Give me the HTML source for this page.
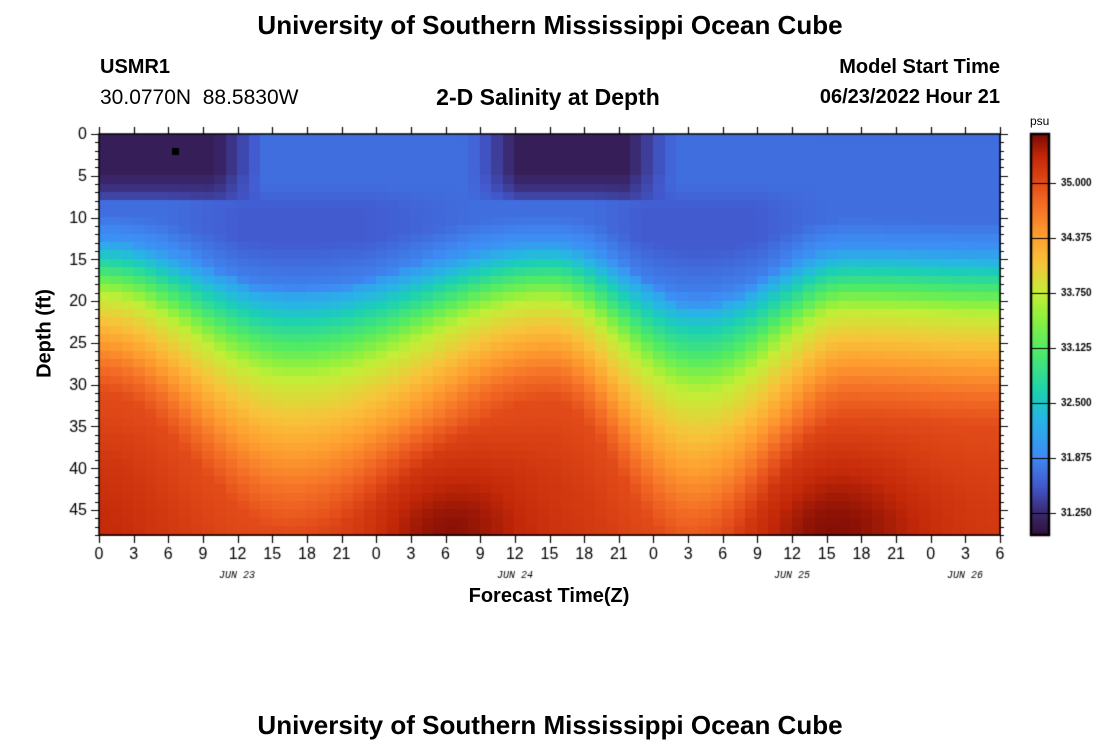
<!DOCTYPE html>
<html><head><meta charset="utf-8"><style>
body{margin:0;background:#fff;width:1100px;height:750px;overflow:hidden;position:relative;font-family:"Liberation Sans",sans-serif}
.t{position:absolute;white-space:nowrap;color:#000;font-family:"Liberation Sans",sans-serif}
canvas{position:absolute;left:0;top:0}
</style></head><body>
<canvas id="c" width="1100" height="750"></canvas>
<div class="t" style="left:0;width:1100px;text-align:center;top:10px;font-size:26px;font-weight:bold">University of Southern Mississippi Ocean Cube</div>
<div class="t" style="left:100px;top:56px;font-size:20px;font-weight:bold">USMR1</div>
<div class="t" style="left:100px;top:86px;font-size:21px">30.0770N&nbsp; 88.5830W</div>
<div class="t" style="left:400px;width:296px;text-align:center;top:84px;font-size:23px;font-weight:bold">2-D Salinity at Depth</div>
<div class="t" style="right:100px;top:56px;font-size:20px;font-weight:bold">Model Start Time</div>
<div class="t" style="right:100px;top:86px;font-size:20px;font-weight:bold">06/23/2022 Hour 21</div>
<div class="t" style="left:0;width:1100px;text-align:center;top:710px;font-size:26px;font-weight:bold">University of Southern Mississippi Ocean Cube</div>
<div class="t" style="left:349px;width:400px;text-align:center;top:585px;font-size:20px;font-weight:bold">Forecast Time(Z)</div>
<div class="t" style="left:-5px;width:100px;text-align:center;top:322px;font-size:20px;font-weight:bold;transform:rotate(-90deg)">Depth (ft)</div>
<div class="t" style="left:1030px;top:114px;font-size:12px">psu</div>
<script>
const c=document.getElementById('c'),g=c.getContext('2d');
const X0=99,X1=1000,Y0=134,Y1=535,H=78,D=48;
const px=t=>X0+(X1-X0)*t/H, py=d=>Y0+(Y1-Y0)*d/D;
const sq=x=>x*x, cl=x=>Math.max(0,Math.min(1,x));
const hp=[[0,17],[17,25.5],[39,17.5],[52,27],[65,18.5],[78,19]];
function h(t){for(let i=0;i<hp.length-1;i++){const a=hp[i][0],b=hp[i][1],c2=hp[i+1][0],d2=hp[i+1][1];if(t<=c2){const f=(t-a)/(c2-a),s=(1-Math.cos(Math.PI*f))/2;return b+(d2-b)*s;}}return 19;}
const prof=[[-40,31.68],[-7.5,31.7],[-4.5,31.95],[-2,32.6],[0,33.1],[2.5,33.75],[5.5,34.1],[8,34.4],[11,34.75],[14,35.0],[22,35.12],[40,35.2]];
function lin(tab,x){if(x<=tab[0][0])return tab[0][1];for(let i=0;i<tab.length-1;i++){if(x<=tab[i+1][0]){const f=(x-tab[i][0])/(tab[i+1][0]-tab[i][0]);return tab[i][1]+(tab[i+1][1]-tab[i][1])*f;}}return tab[tab.length-1][1];}
const stops=[[31.0,[48,18,59]],[31.25,[58,40,110]],[31.55,[66,88,205]],[31.9,[62,140,245]],[32.3,[40,180,230]],[32.6,[27,208,180]],[33.1,[80,235,100]],[33.5,[150,240,60]],[33.75,[195,238,55]],[34.1,[248,195,58]],[34.4,[254,158,48]],[34.75,[244,110,38]],[35.0,[226,75,25]],[35.3,[195,40,8]],[35.56,[122,10,4]]];
function col(v){if(v<=stops[0][0])return stops[0][1];for(let i=0;i<stops.length-1;i++){const a=stops[i][0],ca=stops[i][1],b=stops[i+1][0],cb=stops[i+1][1];if(v<=b){const f=(v-a)/(b-a);return ca.map((x,k)=>Math.round(x+(cb[k]-x)*f));}}return stops[stops.length-1][1];}
function box(t,a,b,w){return cl((t-a)/w+1)*cl((b-t)/w+1);}
function sal(t,d){const hh=h(t);const k=1+(hh-17)/14;let v=lin(prof,(d-hh)/k);
if(d<hh-6)v-=0.12*cl((hh-19)/5)*cl((d-6)/3);
const bt=0.38*Math.exp(-sq((t-29.8)/7))+0.38*Math.exp(-sq((t-63.5)/8))+0.12*Math.exp(-sq(t/5));
v+=bt*cl((d-34)/12);
const lens=box(t,0,10,4.5)+box(t,36.5,45.5,4.5);
const df=cl((8.5-d)/4);
v-=0.55*Math.min(1,lens)*Math.sqrt(df);
return v;}
for(let i=0;i<H;i++)for(let j=0;j<D;j++){const cc=col(sal(i+0.5,j+0.5));g.fillStyle='rgb('+cc.join(',')+')';g.fillRect(Math.floor(px(i)),Math.floor(py(j)),Math.ceil(px(i+1))-Math.floor(px(i))+1,Math.ceil(py(j+1))-Math.floor(py(j))+1);}
g.fillStyle='#000';g.fillRect(172,148,7,7);
g.strokeStyle='#000';g.lineWidth=1.5;g.strokeRect(X0,Y0,X1-X0,Y1-Y0);
g.lineWidth=1.2;g.beginPath();
for(let d=0;d<=D;d++){const y=Math.round(py(d))+.5,L=d%5==0?8:4;g.moveTo(X0,y);g.lineTo(X0-L,y);g.moveTo(X1,y);g.lineTo(X1+L,y);}
for(let t=0;t<=H;t+=3){const x=Math.round(px(t))+.5;g.moveTo(x,Y1);g.lineTo(x,Y1+8);g.moveTo(x,Y0);g.lineTo(x,Y0-7);}
g.stroke();
g.font='16px "Liberation Sans",sans-serif';g.fillStyle='#000';g.textAlign='right';g.textBaseline='middle';
for(let d=0;d<=45;d+=5)g.fillText(d,X0-12,py(d)+1);
g.textAlign='center';g.textBaseline='top';
for(let t=0;t<=H;t+=3)g.fillText((t%24),px(t),Y1+12);
g.font='italic 10px "Liberation Mono",monospace';
[['JUN 23',237],['JUN 24',515],['JUN 25',792],['JUN 26',965]].forEach(a=>g.fillText(a[0],a[1],570));
const CX=1031,CW=18,vy=v=>183+(35-v)/0.625*55;
for(let y=Y0;y<Y1;y++){const v=35+(183-y-0.5)/88;g.fillStyle='rgb('+col(v).join(',')+')';g.fillRect(CX,y,CW,1);}
g.strokeStyle='#000';g.lineWidth=2.5;g.strokeRect(CX,Y0,CW,Y1-Y0);
g.font='bold 10px "Liberation Sans",sans-serif';g.textAlign='left';g.textBaseline='middle';g.lineWidth=1;g.fillStyle='#000';
g.beginPath();
['35.000','34.375','33.750','33.125','32.500','31.875','31.250'].forEach(s=>{const y=Math.round(vy(+s))+.5;g.moveTo(CX,y);g.lineTo(CX+CW+7,y);g.fillText(s,1061,y);});
g.stroke();
</script>
</body></html>
